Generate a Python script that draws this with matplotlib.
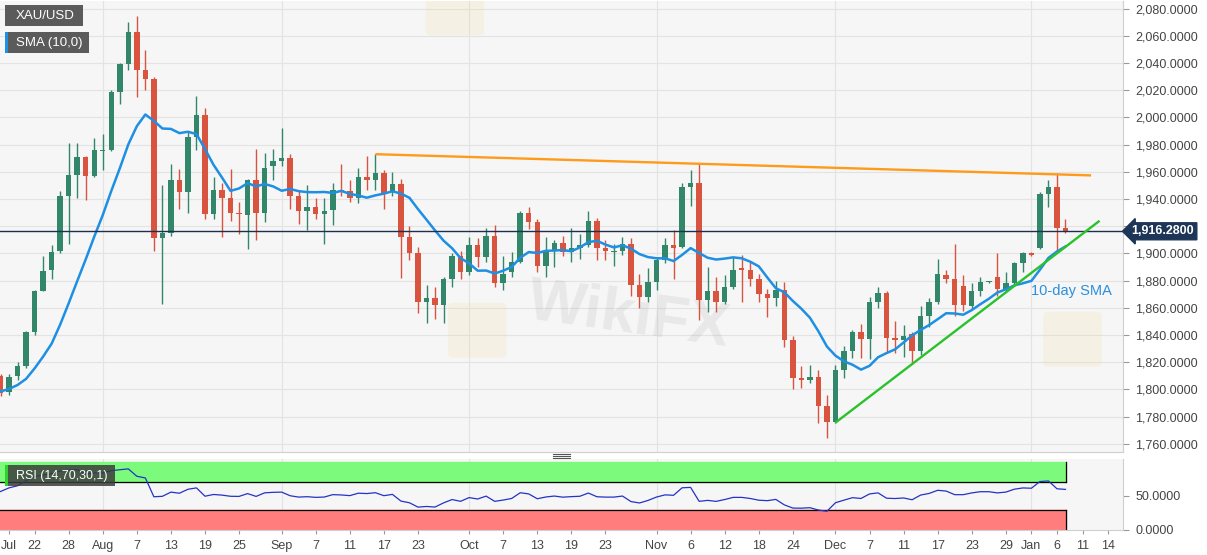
import numpy as np
import pandas as pd
import matplotlib
matplotlib.use("Agg")
from matplotlib import pyplot as plt
from matplotlib.patches import Rectangle, FancyBboxPatch
from matplotlib.lines import Line2D
import matplotlib.transforms as mtransforms

plt.rcParams['font.family'] = ['Liberation Sans', 'DejaVu Sans']

# daily XAU/USD candles, 2020-07-16 .. 2021-01-07 (weekdays)
dates = pd.bdate_range('2020-07-16', '2021-01-07')
opens = [1810, 1798, 1810, 1817, 1842, 1872, 1888, 1902, 1942, 1958, 1971, 1957, 1975, 1976, 2019, 2039,
         2063, 2035, 2028, 1911, 1915, 1954, 1945, 1986, 2002, 1929, 1947, 1941, 1930, 1928, 1954, 1930,
         1964, 1968, 1970, 1942, 1931, 1934, 1929, 1932, 1947, 1946, 1941, 1956, 1954, 1959, 1945, 1951,
         1912, 1900, 1864, 1867, 1862, 1881, 1898, 1886, 1906, 1897, 1913, 1878, 1886, 1894, 1930, 1923,
         1891, 1902, 1908, 1901, 1904, 1906, 1924, 1904, 1901, 1902, 1907, 1877, 1868, 1879, 1895, 1906,
         1905, 1949, 1952, 1866, 1872, 1864, 1875, 1889, 1888, 1881, 1870, 1867, 1873, 1836, 1808, 1807,
         1809, 1788, 1776, 1814, 1828, 1842, 1837, 1864, 1871, 1838, 1836, 1841, 1828, 1854, 1864, 1884,
         1881, 1876, 1861, 1872, 1879, 1883, 1874, 1878, 1893, 1900, 1904, 1944, 1949, 1919]
highs = [1811, 1811, 1820, 1843, 1873, 1898, 1906, 1946, 1981, 1981, 1972, 1985, 1988, 2020, 2040, 2070,
         2075, 2050, 2030, 1950, 1966, 1962, 1990, 2016, 2007, 1956, 1952, 1962, 1938, 1955, 1977, 1974,
         1977, 1992, 1973, 1946, 1950, 1941, 1941, 1952, 1966, 1954, 1963, 1972, 1973, 1961, 1960, 1955,
         1920, 1905, 1877, 1875, 1883, 1900, 1902, 1912, 1911, 1919, 1921, 1898, 1901, 1931, 1934, 1925,
         1912, 1910, 1913, 1919, 1914, 1931, 1926, 1910, 1907, 1912, 1911, 1885, 1889, 1897, 1911, 1917,
         1952, 1961, 1966, 1890, 1883, 1884, 1897, 1899, 1894, 1885, 1874, 1880, 1879, 1839, 1817, 1818,
         1814, 1796, 1818, 1832, 1844, 1848, 1868, 1875, 1872, 1850, 1847, 1842, 1861, 1867, 1896, 1888,
         1907, 1884, 1878, 1883, 1880, 1900, 1886, 1894, 1901, 1901, 1945, 1954, 1959, 1925]
lows = [1795, 1796, 1807, 1816, 1840, 1872, 1881, 1900, 1907, 1941, 1939, 1956, 1961, 1975, 2010, 2035,
        2015, 2020, 1902, 1863, 1913, 1933, 1930, 1976, 1925, 1925, 1912, 1924, 1914, 1903, 1910, 1923,
        1954, 1964, 1933, 1922, 1917, 1925, 1907, 1921, 1942, 1938, 1937, 1947, 1947, 1933, 1942, 1882,
        1895, 1856, 1849, 1852, 1849, 1875, 1881, 1884, 1890, 1894, 1875, 1873, 1883, 1893, 1918, 1886,
        1883, 1890, 1898, 1894, 1896, 1905, 1895, 1895, 1891, 1899, 1869, 1860, 1864, 1873, 1893, 1881,
        1904, 1935, 1851, 1857, 1857, 1863, 1874, 1864, 1876, 1864, 1853, 1861, 1831, 1800, 1801, 1805,
        1775, 1764, 1775, 1808, 1823, 1823, 1822, 1860, 1827, 1827, 1824, 1819, 1825, 1846, 1863, 1878,
        1854, 1858, 1860, 1869, 1878, 1869, 1872, 1877, 1886, 1898, 1903, 1934, 1902, 1915]
closes = [1797, 1809, 1817, 1842, 1872, 1887, 1901, 1942, 1958, 1971, 1957, 1976, 1976, 2019, 2039, 2063,
          2035, 2028, 1911, 1915, 1954, 1945, 1986, 2002, 1929, 1947, 1941, 1930, 1929, 1954, 1930, 1963,
          1968, 1970, 1942, 1931, 1934, 1929, 1931, 1947, 1945, 1941, 1956, 1954, 1959, 1944, 1951, 1912,
          1900, 1864, 1867, 1862, 1881, 1898, 1886, 1906, 1897, 1913, 1878, 1885, 1894, 1930, 1923, 1891,
          1902, 1908, 1901, 1904, 1906, 1924, 1904, 1902, 1902, 1907, 1877, 1868, 1879, 1895, 1906, 1904,
          1949, 1952, 1866, 1872, 1864, 1875, 1888, 1888, 1881, 1870, 1867, 1873, 1836, 1808, 1807, 1809,
          1788, 1776, 1814, 1828, 1842, 1837, 1864, 1871, 1838, 1836, 1839, 1828, 1854, 1864, 1885, 1881,
          1862, 1862, 1872, 1879, 1879, 1874, 1878, 1893, 1900, 1899, 1944, 1949, 1919, 1916.28]
# closes before the window, needed to warm up SMA(10) and RSI(14)
prior_closes = [1761, 1770, 1756, 1768, 1781, 1764, 1772, 1790, 1777, 1785, 1769, 1780, 1794, 1783,
                1790, 1788, 1797, 1795, 1800, 1806, 1802, 1801, 1808]
last_price = 1916.28

# trend lines (date, price)
resistance = [('2020-09-16', 1973.0), ('2021-01-12', 1957.4)]
support = [('2020-12-01', 1775.5), ('2021-01-13', 1924.0)]

tick_dates = ['2020-07-17', '2020-07-22', '2020-07-28', '2020-08-03', '2020-08-07', '2020-08-13',
              '2020-08-19', '2020-08-25', '2020-09-01', '2020-09-07', '2020-09-11', '2020-09-17',
              '2020-09-23', '2020-10-01', '2020-10-07', '2020-10-13', '2020-10-19', '2020-10-23',
              '2020-11-02', '2020-11-06', '2020-11-12', '2020-11-18', '2020-11-24', '2020-12-01',
              '2020-12-07', '2020-12-11', '2020-12-17', '2020-12-23', '2020-12-29', '2021-01-01',
              '2021-01-06', '2021-01-11', '2021-01-14']
tick_labels = ['Jul', '22', '28', 'Aug', '7', '13', '19', '25', 'Sep', '7', '11', '17', '23', 'Oct',
               '7', '13', '19', '23', 'Nov', '6', '12', '18', '24', 'Dec', '7', '11', '17', '23', '29',
               'Jan', '6', '11', '14']
month_dates = ['2020-08-03', '2020-09-01', '2020-10-01', '2020-11-02', '2020-12-01', '2021-01-01']

# index positions (weekday bars, extended into the future for the axis)
axis_dates = pd.bdate_range('2020-07-16', '2021-01-20')
pos = {d.strftime('%Y-%m-%d'): i for i, d in enumerate(axis_dates)}
x = np.arange(len(dates))

allc = pd.Series(prior_closes + closes, dtype=float)
sma = allc.rolling(10).mean().values[len(prior_closes):]

diff = allc.diff()
gain = diff.clip(lower=0)
loss = -diff.clip(upper=0)
ag = gain.ewm(alpha=1 / 14, adjust=True).mean()
al = loss.ewm(alpha=1 / 14, adjust=True).mean()
rsi = (100 - 100 / (1 + ag / al)).values[len(prior_closes):]

W, H = 1207, 555
fig = plt.figure(figsize=(W / 100, H / 100), dpi=100)
fig.patch.set_facecolor('white')
pw = 1123 / W
ax = fig.add_axes([0, 1 - 452 / H, pw, 451 / H])
ax_r = fig.add_axes([0, 1 - 530 / H, pw, 71 / H], sharex=ax)

bg = '#f6f6f6'
grid_c = '#e3e3e3'
up_c, dn_c = '#32876a', '#d8543f'
xmin, xmax = -0.06, 131.75

for a in (ax, ax_r):
    a.set_facecolor(bg)
    for s in a.spines.values():
        s.set_color('#cfcfcf')
        s.set_linewidth(0.8)
    a.spines['left'].set_visible(False)
    a.spines['top'].set_visible(False)
    a.yaxis.tick_right()
    for md in month_dates:
        a.axvline(pos[md], color=grid_c, lw=0.8, zorder=0)

ax.set_xlim(xmin, xmax)
ax.set_ylim(1753.9, 2085.7)
yt = np.arange(1760, 2081, 20)
ax.set_yticks(yt)
# the 1,920 label sits behind the last-price tag
ax.set_yticklabels(['' if v == 1920 else f'{v:,.4f}' for v in yt])
for v in yt:
    ax.axhline(v, color=grid_c, lw=0.8, zorder=0)
ax.tick_params(axis='y', length=4, color='#999999', labelsize=9, labelcolor='#444444', pad=5)
ax.tick_params(axis='x', bottom=False, labelbottom=False)

# candles
for i in x:
    o, h, l, c = opens[i], highs[i], lows[i], closes[i]
    col = up_c if c >= o else dn_c
    ax.vlines(i, l, h, color=col, lw=1.0, zorder=3)
    body = max(abs(c - o), 0.7)
    ax.bar(i, body, bottom=min(o, c), width=0.64, color=col, zorder=4, linewidth=0)

ax.plot(x, sma, color='#1e8fe3', lw=1.8, zorder=5)
ax.axhline(last_price, color='#1d3050', lw=1.0, zorder=5)

for line, col in ((resistance, '#ff9a1a'), (support, '#29c22a')):
    xs = [pos[d] for d, _ in line]
    ys = [p for _, p in line]
    ax.plot(xs, ys, color=col, lw=1.7, zorder=6, solid_capstyle='butt')

ax.text(pos['2021-01-01'] - 0.1, 1872.5, '10-day SMA', color='#2a8fe0', fontsize=10.5,
        va='center', ha='left', zorder=7)

trans = mtransforms.blended_transform_factory(ax.transAxes, ax.transData)
ax.text(1 + 40 / 1123, last_price, '1,916.2800', transform=trans, ha='center', va='center',
        color='white', fontsize=9, fontweight='bold', zorder=10, clip_on=False,
        bbox=dict(boxstyle='larrow,pad=0.2', fc='#1d3557', ec='#1d3557'))

# RSI panel
ax_r.set_ylim(0, 104)
band_end = 125.05
frac = (band_end - xmin) / (xmax - xmin)
ax_r.axhspan(70, 100, xmin=0, xmax=frac, color='#7cfa7c', zorder=1)
ax_r.axhspan(0, 30, xmin=0, xmax=frac, color='#ff7d7d', zorder=1)
ax_r.plot([xmin, band_end], [70, 70], color='black', lw=0.9, zorder=2)
ax_r.plot([xmin, band_end], [30, 30], color='black', lw=0.9, zorder=2)
ax_r.plot([band_end, band_end], [0, 30], color='black', lw=0.9, zorder=2)
ax_r.plot([band_end, band_end], [70, 100], color='black', lw=0.9, zorder=2)
ax_r.plot(x, rsi, color='#2433c4', lw=0.9, zorder=3)
ax_r.set_yticks([0, 50])
ax_r.set_yticklabels(['0.0000', '50.0000'])
ax_r.tick_params(axis='y', length=4, color='#999999', labelsize=9, labelcolor='#444444', pad=5)
ax_r.set_xticks([pos[d] for d in tick_dates])
ax_r.set_xticklabels(tick_labels)
ax_r.tick_params(axis='x', length=3, color='#999999', labelsize=9, labelcolor='#444444', pad=4)
ax_r.set_xlim(xmin, xmax)


def px_rect(x0, y0, w, h, **kw):
    fig.patches.append(Rectangle((x0 / W, 1 - (y0 + h) / H), w / W, h / H,
                                 transform=fig.transFigure, **kw))


# legend boxes
px_rect(5, 5, 78, 21, fc='#5b5b5b', ec='none', zorder=20)
fig.text(16 / W, 1 - 16 / H, 'XAU/USD', color='white', fontsize=9.5, va='center', zorder=21)
px_rect(5, 32, 84, 21, fc='#5b5b5b', ec='none', zorder=20)
px_rect(5, 32, 2.5, 21, fc='#1e8fe3', ec='none', zorder=21)
fig.text(16 / W, 1 - 43 / H, 'SMA (10,0)', color='white', fontsize=9.5, va='center', zorder=21)
px_rect(5, 465, 110, 21, fc='#3c3c3c', ec='none', alpha=0.85, zorder=20)
px_rect(5, 465, 2.5, 21, fc='#2fd12f', ec='none', zorder=21)
fig.text(16 / W, 1 - 475.5 / H, 'RSI (14,70,30,1)', color='white', fontsize=9, va='center', zorder=21)

# panel divider handle
for dy in (453.5, 455.5, 457.5):
    fig.lines.append(Line2D([553 / W, 570 / W], [1 - dy / H] * 2, transform=fig.transFigure,
                            color='#555555', lw=0.8))

# faint WikiFX watermark
ax.text(0.56, 0.30, 'WikiFX', transform=ax.transAxes, rotation=-8, ha='center', va='center',
        color='#8a8a8a', alpha=0.13, fontsize=44, fontweight='bold', zorder=2)
for cx, cy in ((0.425, 0.27), (0.955, 0.25), (0.405, 0.985)):
    ax.add_patch(FancyBboxPatch((cx - 0.02, cy - 0.055), 0.04, 0.11, transform=ax.transAxes,
                                boxstyle='round,pad=0.006', fc='#f3d27a', ec='none', alpha=0.14,
                                zorder=2))

fig.savefig('out.png', dpi=100, facecolor='white')
